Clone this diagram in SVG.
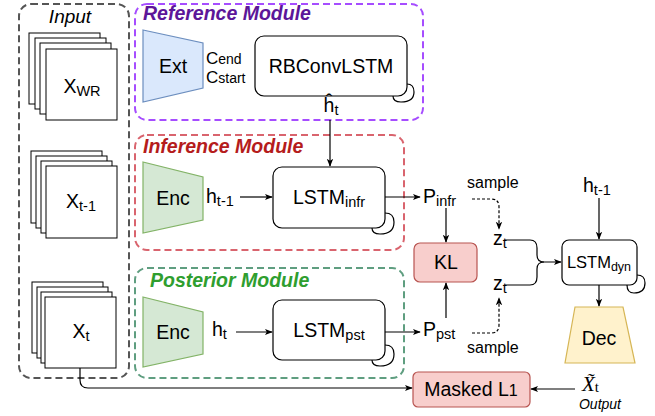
<svg xmlns="http://www.w3.org/2000/svg" width="655" height="416" viewBox="0 0 655 416">
<defs>
<style>
text{font-family:"Liberation Sans",Arial,sans-serif;fill:#000}
.lbl{font-size:19.5px}
.sub{font-size:14.5px}
.mod{font-size:19.5px;font-weight:bold;font-style:italic}
.frame{fill:#fff;stroke:#000;stroke-width:1}
.box{fill:#fff;stroke:#000;stroke-width:1.2}
.dash{fill:none;stroke-width:2;stroke-dasharray:7 4}
.line{fill:none;stroke:#000;stroke-width:1.2}
.dline{fill:none;stroke:#000;stroke-width:1.2;stroke-dasharray:3 2}
.pink{fill:#f8cecc;stroke:#b85450;stroke-width:1.2}
</style>
<marker id="ah" viewBox="0 0 10 10" refX="9" refY="5" markerWidth="8" markerHeight="8" markerUnits="userSpaceOnUse" orient="auto">
<path d="M0 1 L10 5 L0 9 L2.5 5 Z" fill="#000"/>
</marker>
</defs>
<rect width="655" height="416" fill="#fff"/>

<g id="input">
<rect class="dash" x="19" y="4" width="110" height="374" rx="12" stroke="#555"/>
<text x="70" y="23" text-anchor="middle" style="font-size:19px;font-style:italic">Input</text>
</g>

<g id="x-wr">
<rect class="frame" x="29" y="33" width="71" height="71"/>
<rect class="frame" x="35" y="38" width="71" height="71"/>
<rect class="frame" x="40" y="43" width="71" height="71"/>
<rect class="frame" x="46" y="49" width="71" height="71"/>
<text x="82" y="93" text-anchor="middle" class="lbl">X<tspan class="sub" dy="3">WR</tspan></text>
</g>

<g id="x-t-1">
<rect class="frame" x="31" y="151" width="71" height="72"/>
<rect class="frame" x="36" y="156" width="71" height="72"/>
<rect class="frame" x="41" y="161" width="71" height="72"/>
<rect class="frame" x="46" y="166" width="71" height="72"/>
<text x="81" y="208" text-anchor="middle" class="lbl">X<tspan class="sub" dy="3">t-1</tspan></text>
</g>

<g id="x-t">
<rect class="frame" x="32" y="282" width="71" height="71"/>
<rect class="frame" x="37" y="287" width="71" height="71"/>
<rect class="frame" x="41" y="292" width="71" height="71"/>
<rect class="frame" x="45" y="297" width="71" height="71"/>
<text x="81" y="338" text-anchor="middle" class="lbl">X<tspan class="sub" dy="3">t</tspan></text>
</g>

<g id="reference-module">
<rect class="dash" x="135" y="4" width="288" height="116" rx="12" stroke="#a64dff"/>
<text x="143" y="20" class="mod" style="fill:#5c1699">Reference Module</text>
</g>

<g id="ext">
<path d="M143 30 L203 43 L203 88 L143 102 Z" fill="#dae8fc" stroke="#6c8ebf" stroke-width="1.2"/>
<text x="173" y="73" text-anchor="middle" class="lbl">Ext</text>
<text x="206" y="64" style="font-size:17px">C<tspan style="font-size:14px">end</tspan></text>
<text x="206" y="83" style="font-size:17px">C<tspan style="font-size:14px">start</tspan></text>
</g>

<g id="rbconvlstm">
<rect class="box" x="255" y="36" width="152" height="60" rx="9"/>
<text x="331" y="73" text-anchor="middle" class="lbl">RBConvLSTM</text>
<path class="line" d="M393 96 Q393 102 401 102 Q414 102 414 92 Q414 84 407 84"/>
<text x="331" y="112" text-anchor="middle" class="lbl">ĥ<tspan class="sub" dy="3">t</tspan></text>
</g>

<g id="inference-module">
<rect class="dash" x="135" y="135" width="269" height="115" rx="12" stroke="#d9646e"/>
<text x="143" y="153" class="mod" style="fill:#b51c1c">Inference Module</text>
</g>

<g id="enc-infr">
<path d="M143 162 L203 177 L203 220 L143 233 Z" fill="#d5e8d4" stroke="#82b366" stroke-width="1.2"/>
<text x="173" y="205" text-anchor="middle" class="lbl">Enc</text>
<text x="206" y="203" class="lbl">h<tspan class="sub" dy="3">t-1</tspan></text>
</g>

<g id="lstm-infr">
<rect class="box" x="273" y="167" width="112" height="61" rx="9"/>
<text x="329" y="204" text-anchor="middle" class="lbl">LSTM<tspan class="sub" dy="3">infr</tspan></text>
<path class="line" d="M372 228 Q372 234 380 234 Q394 234 394 222 Q394 213 385 213"/>
</g>

<g id="posterior-module">
<rect class="dash" x="135" y="268" width="269" height="110" rx="12" stroke="#5f9e80"/>
<text x="150" y="287" class="mod" style="fill:#2f9e2f">Posterior Module</text>
</g>

<g id="enc-pst">
<path d="M143 297 L203 312 L203 354 L143 367 Z" fill="#d5e8d4" stroke="#82b366" stroke-width="1.2"/>
<text x="173" y="339" text-anchor="middle" class="lbl">Enc</text>
<text x="212" y="336" class="lbl">h<tspan class="sub" dy="3">t</tspan></text>
</g>

<g id="lstm-pst">
<rect class="box" x="273" y="300" width="112" height="60" rx="9"/>
<text x="329" y="337" text-anchor="middle" class="lbl">LSTM<tspan class="sub" dy="3">pst</tspan></text>
<path class="line" d="M372 360 Q372 366 380 366 Q394 366 394 354 Q394 345 385 345"/>
</g>

<g id="p-infr">
<text x="423" y="203" class="lbl">P<tspan class="sub" dy="3">infr</tspan></text>
<text x="467" y="188" style="font-size:16px">sample</text>
</g>

<g id="p-pst">
<text x="423" y="336" class="lbl">P<tspan class="sub" dy="3">pst</tspan></text>
<text x="467" y="353" style="font-size:16px">sample</text>
</g>

<g id="kl">
<rect class="pink" x="414" y="243" width="63" height="39" rx="6"/>
<text x="446" y="269" text-anchor="middle" class="lbl">KL</text>
</g>

<g id="z-t-upper">
<text x="493" y="245" class="lbl">z<tspan class="sub" dy="3">t</tspan></text>
</g>

<g id="z-t-lower">
<text x="493" y="290" class="lbl">z<tspan class="sub" dy="3">t</tspan></text>
</g>

<g id="lstm-dyn">
<text x="583" y="192" class="lbl">h<tspan class="sub" dy="3">t-1</tspan></text>
<rect class="box" x="562" y="240" width="75" height="45" rx="7"/>
<text x="599" y="268" text-anchor="middle" style="font-size:16.5px">LSTM<tspan style="font-size:12.5px" dy="3">dyn</tspan></text>
<path class="line" d="M627 285 Q627 293 634 293 Q645 293 645 283 Q645 275 637 275"/>
</g>

<g id="dec">
<path d="M575 307 L623 307 L635 363 L565 363 Z" fill="#fff2cc" stroke="#d6b656" stroke-width="1.2"/>
<text x="599" y="345" text-anchor="middle" class="lbl">Dec</text>
</g>

<g id="masked-l1">
<rect class="pink" x="413" y="372" width="117" height="35" rx="5"/>
<text x="471" y="396" text-anchor="middle" class="lbl">Masked L<tspan style="font-size:16px">1</tspan></text>
</g>

<g id="output">
<text x="582" y="391" style="font-family:'Liberation Serif','DejaVu Serif',serif;font-size:21px;font-style:italic">X̃<tspan style="font-style:normal;font-size:15px" dy="1">t</tspan></text>
<text x="600" y="409" text-anchor="middle" style="font-size:14px;font-style:italic">Output</text>
</g>

<g id="connectors">
<path class="line" d="M330 120 L330 166" marker-end="url(#ah)"/>
<path class="line" d="M240 197 L272 197" marker-end="url(#ah)"/>
<path class="line" d="M385 197 L420 197" marker-end="url(#ah)"/>
<path class="line" d="M236 332 L272 332" marker-end="url(#ah)"/>
<path class="line" d="M385 332 L420 332" marker-end="url(#ah)"/>
<path class="line" d="M446 208 L446 242" marker-end="url(#ah)"/>
<path class="line" d="M446 318 L446 283" marker-end="url(#ah)"/>
<path class="dline" d="M472 199 L491 199 Q499 199 499 207 L499 229" marker-end="url(#ah)"/>
<path class="dline" d="M472 333 L491 333 Q499 333 499 325 L499 298" marker-end="url(#ah)"/>
<path class="line" d="M505 240 L530 240 Q537 240 537 248 L537 255 Q537 262 544 262"/>
<path class="line" d="M505 285 L530 285 Q537 285 537 277 L537 269 Q537 262 544 262 L561 262" marker-end="url(#ah)"/>
<path class="line" d="M599 198 L599 239" marker-end="url(#ah)"/>
<path class="line" d="M599 285 L599 306" marker-end="url(#ah)"/>
<path class="line" d="M575 389 L531 389" marker-end="url(#ah)"/>
<path class="line" d="M80 368 L80 380 Q80 388 88 388 L412 388" marker-end="url(#ah)"/>
</g>
</svg>
